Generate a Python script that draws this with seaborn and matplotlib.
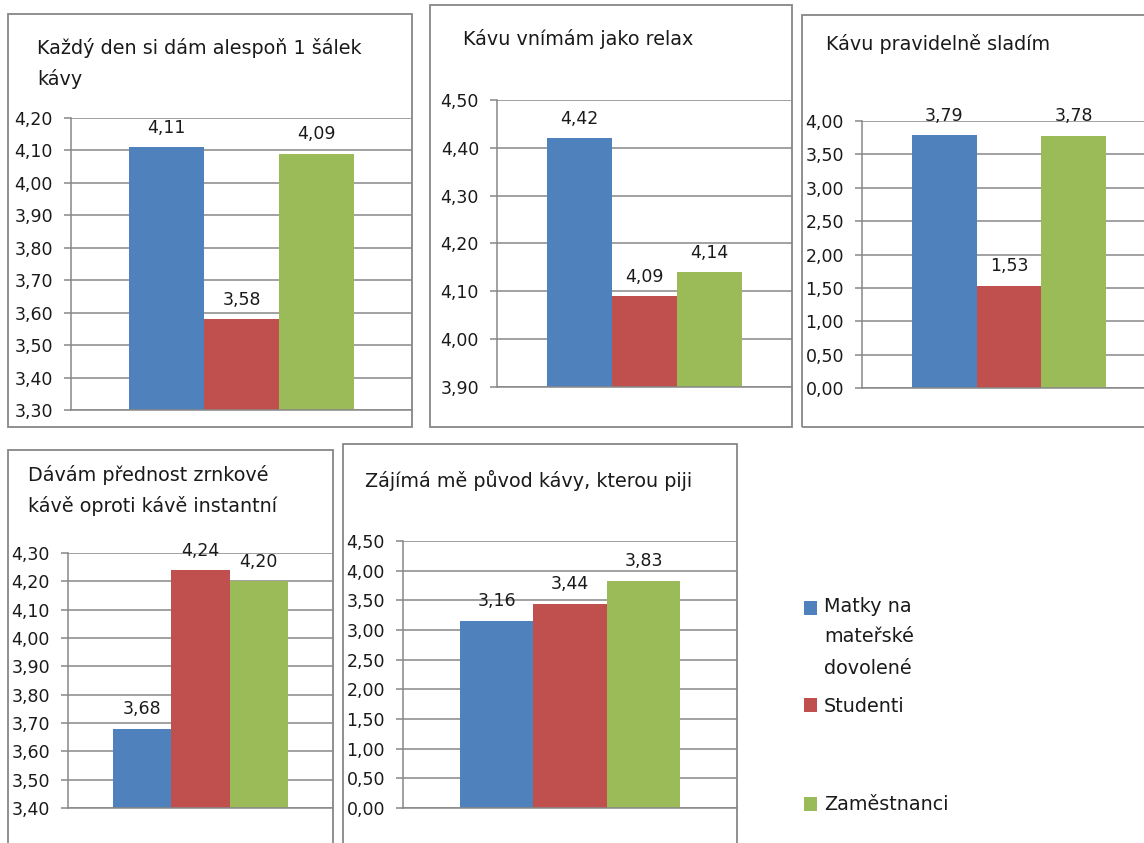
import numpy as np
import pandas as pd
import matplotlib
matplotlib.use("Agg")
import matplotlib.pyplot as plt
from matplotlib.patches import Rectangle
from matplotlib.legend_handler import HandlerPatch
from matplotlib.ticker import FuncFormatter
import seaborn as sns

# ---- data -------------------------------------------------------------
questions = [
    "Každý den si dám alespoň 1 šálek\nkávy",
    "Kávu vnímám jako relax",
    "Kávu pravidelně sladím",
    "Dávám přednost zrnkové\nkávě oproti kávě instantní",
    "Zájímá mě původ kávy, kterou piji",
]
groups = ["Matky na mateřské dovolené", "Studenti", "Zaměstnanci"]
legend_labels = ["Matky na\nmateřské\ndovolené", "Studenti", "Zaměstnanci"]

matky = [4.11, 4.42, 3.79, 3.68, 3.16]
studenti = [3.58, 4.09, 1.53, 4.24, 3.44]
zamestnanci = [4.09, 4.14, 3.78, 4.20, 3.83]

y_min = [3.30, 3.90, 0.00, 3.40, 0.00]
y_max = [4.20, 4.50, 4.00, 4.30, 4.50]
y_step = [0.10, 0.10, 0.50, 0.10, 0.50]

colors = ["#4F81BD", "#C0504D", "#9BBB59"]

# ---- layout (pixels) --------------------------------------------------
W, H = 1144, 843
axes_px = [(71, 118, 412, 410), (497, 100, 792, 387), (862, 121, 1156, 388),
           (68, 553, 333, 808), (403, 541, 737, 808)]
frames_px = [(8, 14, 412, 427), (430, 5, 792, 427), (802, 15, 1170, 427),
             (8, 450, 333, 870), (343, 444, 737, 870)]
# left edge and baseline of the last title line
titles_px = [(37, 85), (463, 45), (826, 50), (28, 512), (365, 487)]

GRID = "#878787"
TXT = "#1a1a1a"
FS = 12.5
FS_TITLE = 13.8
LS = 1.7

sns.set_theme(style="white")
plt.rcParams["font.family"] = ["DejaVu Sans"]

fig = plt.figure(figsize=(W / 100, H / 100), dpi=100)
fig.patch.set_facecolor("white")

comma = lambda v: f"{v:.2f}".replace(".", ",")

values = list(zip(matky, studenti, zamestnanci))
last_ax = None
for i, q in enumerate(questions):
    l, t, r, b = axes_px[i]
    ax = fig.add_axes([l / W, 1 - b / H, (r - l) / W, (b - t) / H])
    df = pd.DataFrame({"q": [q] * 3, "group": groups, "value": values[i]})
    sns.barplot(data=df, x="q", y="value", hue="group", hue_order=groups,
                palette=colors, width=0.66, gap=0, saturation=1,
                errorbar=None, legend=False, linewidth=0, edgecolor="none",
                ax=ax)
    ax.set_xlim(-0.5, 0.5)
    ax.set_ylim(y_min[i], y_max[i])
    n = int(round((y_max[i] - y_min[i]) / y_step[i]))
    ax.set_yticks(y_min[i] + y_step[i] * np.arange(n + 1))
    ax.yaxis.set_major_formatter(FuncFormatter(lambda v, p: comma(v)))
    ax.set_xticks([])
    ax.set_xlabel("")
    ax.set_ylabel("")
    ax.yaxis.grid(True, color=GRID, lw=1.1)
    ax.set_axisbelow(True)
    for s in ["top", "right"]:
        ax.spines[s].set_visible(False)
    for s in ["left", "bottom"]:
        ax.spines[s].set_color(GRID)
        ax.spines[s].set_linewidth(1.1)
    ax.tick_params(axis="y", direction="out", length=5, width=1.1, color=GRID,
                   labelsize=FS, labelcolor=TXT, pad=8, left=True)
    ax.set_facecolor("white")
    for c in ax.containers:
        ax.bar_label(c, fmt=comma, padding=7.5, fontsize=FS, color=TXT)

    # panel frame
    fl, ft, fr, fb = frames_px[i]
    fig.add_artist(Rectangle((fl / W, 1 - fb / H), (fr - fl) / W, (fb - ft) / H,
                             transform=fig.transFigure, fill=False,
                             edgecolor=GRID, lw=1.3))
    # panel title
    tx, ty = titles_px[i]
    tt = fig.text(tx / W, 1 - ty / H, q, ha="left", va="baseline",
                  fontsize=FS_TITLE, color=TXT)
    tt.set_linespacing(LS)
    last_ax = ax

# ---- legend -------------------------------------------------------------
LINE_PT = 30 * 0.72


def top_square(shift):
    def make(legend, orig_handle, xdescent, ydescent, width, height, fontsize):
        return Rectangle((-xdescent, -ydescent + shift), width, height)
    return make


legend_y = [637, 706, 805]
shifts = [LINE_PT, 0, 0]
for i, lab in enumerate(legend_labels):
    h = last_ax.containers[i].patches[0]
    leg = fig.legend(handles=[h], labels=[lab], loc="center left",
                     bbox_to_anchor=(804 / W, 1 - legend_y[i] / H),
                     frameon=False, borderpad=0, borderaxespad=0,
                     handlelength=0.7, handleheight=0.7, handletextpad=0.35,
                     fontsize=FS_TITLE, labelcolor=TXT,
                     handler_map={h: HandlerPatch(patch_func=top_square(shifts[i]))})
    leg.get_texts()[0].set_linespacing(1.8)

fig.savefig("out.png", dpi=100, facecolor="white")
